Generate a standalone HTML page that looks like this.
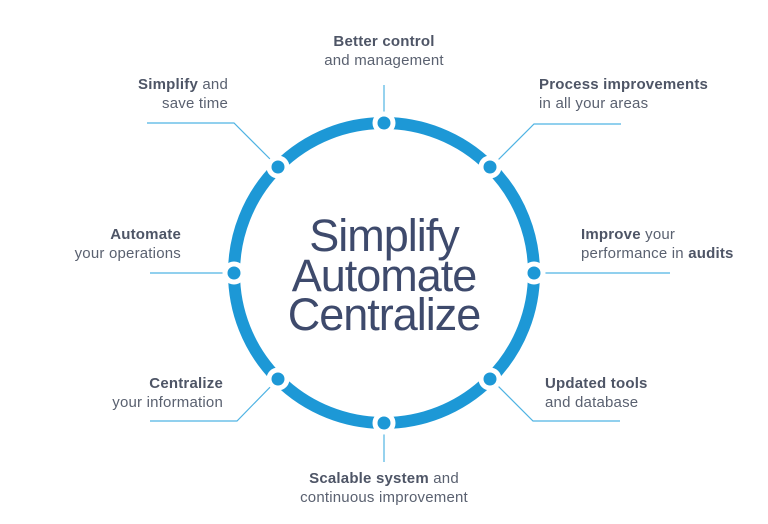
<!DOCTYPE html>
<html><head><style>
html,body{margin:0;padding:0;background:#fff;}
svg{display:block;}
text{font-family:"Liberation Sans",sans-serif;font-size:15px;letter-spacing:0.2px;fill:#5a6170;}
.b{font-weight:bold;fill:#4e5566;}
.c{font-size:45px;fill:#3e4a6c;letter-spacing:-1px;}
</style></head><body>
<svg width="768" height="524" viewBox="0 0 768 524">
<g stroke="#4fb3e3" stroke-width="1.2" fill="none">
<line x1="384" y1="85" x2="384" y2="124"/>
<polyline points="278,167 234,123 147,123"/>
<polyline points="490,168 534,124 621,124"/>
<line x1="534" y1="273" x2="670" y2="273"/>
<line x1="150" y1="273" x2="234" y2="273"/>
<polyline points="279,378 237,421 150,421"/>
<polyline points="490,378 533,421 620,421"/>
<line x1="384" y1="422" x2="384" y2="462"/>
</g>
<circle cx="384" cy="273" r="150" fill="none" stroke="#1d98d6" stroke-width="12"/>
<g fill="#1d98d6" stroke="#fff" stroke-width="5">
<circle cx="384" cy="123" r="9"/>
<circle cx="278" cy="167" r="9"/>
<circle cx="490" cy="167" r="9"/>
<circle cx="534" cy="273" r="9"/>
<circle cx="234" cy="273" r="9"/>
<circle cx="278" cy="379" r="9"/>
<circle cx="490" cy="379" r="9"/>
<circle cx="384" cy="423" r="9"/>
</g>
<g text-anchor="middle">
<text class="c" x="384" y="251">Simplify</text>
<text class="c" x="384" y="291">Automate</text>
<text class="c" x="384" y="330">Centralize</text>
<text x="384" y="46"><tspan class="b">Better control</tspan></text>
<text x="384" y="65">and management</text>
<text x="384" y="483"><tspan class="b">Scalable system</tspan> and</text>
<text x="384" y="502">continuous improvement</text>
</g>
<g text-anchor="end">
<text x="228" y="89"><tspan class="b">Simplify</tspan> and</text>
<text x="228" y="108">save time</text>
<text x="181" y="239" class="b">Automate</text>
<text x="181" y="258">your operations</text>
<text x="223" y="388" class="b">Centralize</text>
<text x="223" y="407">your information</text>
</g>
<text x="539" y="89" class="b">Process improvements</text>
<text x="539" y="108">in all your areas</text>
<text x="581" y="239"><tspan class="b">Improve</tspan> your</text>
<text x="581" y="258">performance in <tspan class="b">audits</tspan></text>
<text x="545" y="388" class="b">Updated tools</text>
<text x="545" y="407">and database</text>
</svg>
</body></html>
